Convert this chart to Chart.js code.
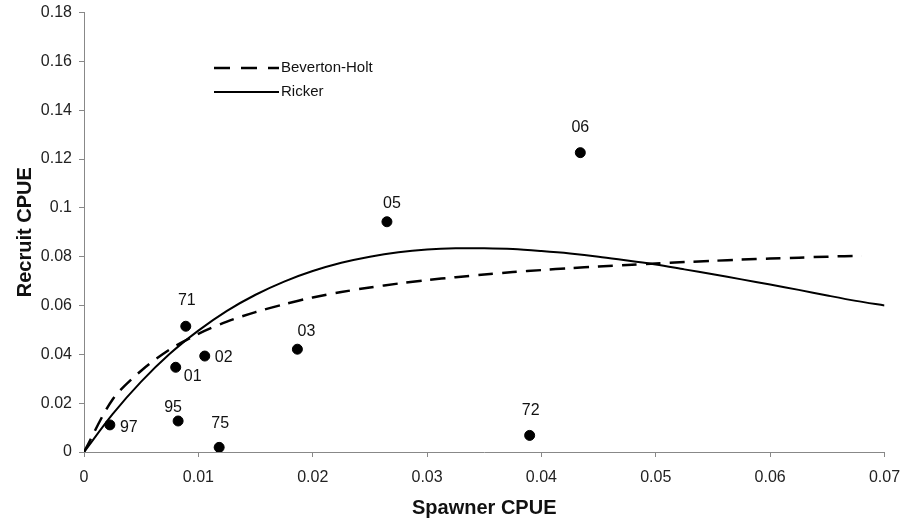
<!DOCTYPE html>
<html>
<head>
<meta charset="utf-8">
<script src="https://cdn.jsdelivr.net/npm/chart.js@4.4.1/dist/chart.umd.min.js"></script>
<style>
  html, body { margin: 0; padding: 0; background: #fff; }
  #wrap { width: 904px; height: 526px; }
</style>
</head>
<body>
<div id="wrap"><canvas id="chart" width="904" height="526"></canvas></div>
<script>
// observed points (spawner, recruit) with year label
const years = ['97', '95', '75', '01', '71', '02', '03', '05', '72', '06'];
const spawner = [0.00226, 0.00823, 0.01182, 0.00802, 0.0089, 0.01056, 0.01866, 0.02649, 0.03897, 0.0434];
const recruit = [0.0111, 0.0127, 0.0019, 0.0347, 0.0515, 0.0393, 0.0421, 0.0943, 0.0068, 0.1226];

// fitted curves
const rickerS = [0, 0.0025, 0.005, 0.0075, 0.01, 0.0125, 0.015, 0.0175, 0.02, 0.0225, 0.025, 0.0275, 0.03, 0.0325, 0.035,
  0.0375, 0.04, 0.0425, 0.045, 0.0475, 0.05, 0.0525, 0.055, 0.0575, 0.06, 0.0625, 0.065, 0.0675, 0.07];
const rickerR = [0, 0.0155, 0.0288, 0.0402, 0.0497, 0.0578, 0.0644, 0.0698, 0.0741, 0.0775, 0.0800, 0.0818, 0.0829, 0.0834, 0.0834,
  0.0831, 0.0823, 0.0813, 0.0800, 0.0784, 0.0768, 0.0748, 0.0728, 0.0707, 0.0686, 0.0664, 0.0641, 0.0619, 0.0600];
const bhS = [0, 0.0025, 0.005, 0.0075, 0.01, 0.0125, 0.015, 0.0175, 0.02, 0.0225, 0.025, 0.0275, 0.03, 0.0325, 0.035,
  0.0375, 0.04, 0.0425, 0.045, 0.0475, 0.05, 0.0525, 0.055, 0.0575, 0.06, 0.0625, 0.065, 0.068];
const bhR = [0, 0.0215, 0.0333, 0.0420, 0.0484, 0.0534, 0.0573, 0.0605, 0.0633, 0.0655, 0.0674, 0.0690, 0.0704, 0.0716, 0.0727,
  0.0737, 0.0745, 0.0753, 0.0760, 0.0766, 0.0772, 0.0778, 0.0783, 0.0788, 0.0792, 0.0796, 0.0800, 0.0804];

// where each year label sits relative to its dot (px)
const labelDx = [19, -5, 1, 17, 1, 19, 9, 5, 1, 0];
const labelDy = [3, -13, -24, 9, -26, 2, -18, -18, -25, -25];

const FONT = '"Liberation Sans", Arial, sans-serif';

function toPoints(xs, ys) {
  return xs.map((x, i) => ({ x: x, y: ys[i] }));
}

// year labels next to the dots
const pointLabels = {
  id: 'pointLabels',
  afterDatasetsDraw(chart) {
    const ctx = chart.ctx;
    const meta = chart.getDatasetMeta(2);
    ctx.save();
    ctx.font = '16px ' + FONT;
    ctx.fillStyle = '#111';
    ctx.textAlign = 'center';
    ctx.textBaseline = 'middle';
    meta.data.forEach((el, i) => {
      ctx.fillText(years[i], el.x + labelDx[i], el.y + labelDy[i]);
    });
    ctx.restore();
  }
};

// legend inside the plot, like the original
const innerLegend = {
  id: 'innerLegend',
  afterDraw(chart) {
    const ctx = chart.ctx;
    const items = [chart.data.datasets[0], chart.data.datasets[1]];
    ctx.save();
    ctx.font = '15px ' + FONT;
    ctx.fillStyle = '#111';
    ctx.textAlign = 'left';
    ctx.textBaseline = 'middle';
    items.forEach((ds, i) => {
      const y = 68 + i * 24;
      ctx.strokeStyle = '#000';
      ctx.lineWidth = ds.borderWidth;
      ctx.setLineDash(ds.borderDash ? [16, 11] : []);
      ctx.beginPath();
      ctx.moveTo(214, y);
      ctx.lineTo(279, y);
      ctx.stroke();
      ctx.fillText(ds.label, 281, y);
    });
    ctx.restore();
  }
};

const fmt = v => String(Math.round(v * 100) / 100);

new Chart(document.getElementById('chart'), {
  type: 'scatter',
  data: {
    datasets: [
      {
        label: 'Beverton-Holt',
        data: toPoints(bhS, bhR),
        showLine: true,
        borderColor: '#000',
        borderWidth: 2.5,
        borderDash: [15, 9],
        pointRadius: 0,
        tension: 0.3
      },
      {
        label: 'Ricker',
        data: toPoints(rickerS, rickerR),
        showLine: true,
        borderColor: '#000',
        borderWidth: 2,
        pointRadius: 0,
        tension: 0.3
      },
      {
        label: 'Observed',
        data: toPoints(spawner, recruit),
        pointRadius: 5,
        pointBackgroundColor: '#000',
        pointBorderColor: '#000',
        showLine: false
      }
    ]
  },
  options: {
    responsive: false,
    animation: false,
    layout: { padding: { top: 12.5, right: 19.5, left: 0, bottom: 0 } },
    plugins: { legend: { display: false }, tooltip: { enabled: false } },
    scales: {
      x: {
        type: 'linear',
        min: 0, max: 0.07,
        afterFit(scale) {
          scale.height = 74;
          scale.paddingLeft = 0;
          scale.paddingRight = 0;
        },
        grid: { drawOnChartArea: false, drawTicks: true, tickLength: 5, color: '#888' },
        border: { color: '#888', width: 1 },
        ticks: { stepSize: 0.01, padding: 11, color: '#222', font: { family: FONT, size: 16 }, callback: fmt },
        title: { display: true, text: 'Spawner CPUE', color: '#111', padding: 6, font: { family: FONT, size: 20, weight: 'bold' } }
      },
      y: {
        type: 'linear',
        min: 0, max: 0.18,
        afterFit(scale) {
          scale.width = 84;
          scale.paddingTop = 0;
          scale.paddingBottom = 0;
        },
        grid: { drawOnChartArea: false, drawTicks: true, tickLength: 5, color: '#888' },
        border: { color: '#888', width: 1 },
        ticks: { stepSize: 0.02, padding: 7, color: '#222', font: { family: FONT, size: 16 }, callback: fmt },
        title: { display: true, text: 'Recruit CPUE', color: '#111', padding: 13, font: { family: FONT, size: 20, weight: 'bold' } }
      }
    }
  },
  plugins: [pointLabels, innerLegend]
});
</script>
</body>
</html>
